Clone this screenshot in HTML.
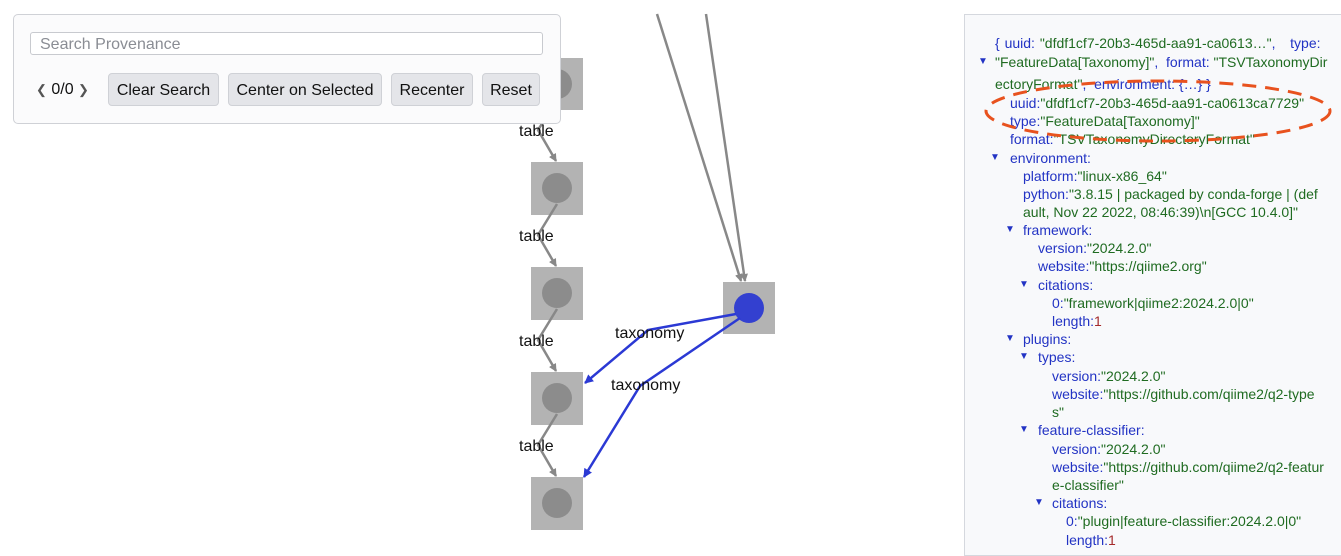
<!DOCTYPE html>
<html><head><meta charset="utf-8"><style>
body{margin:0;width:1341px;height:552px;overflow:hidden;background:#fff;font-family:"Liberation Sans",sans-serif;position:relative}
.tb{position:absolute;left:13px;top:14px;width:546px;height:108px;border:1px solid #cfd1d6;border-radius:5px;background:#fbfbfc}
.inp{position:absolute;left:30px;top:32px;width:513px;height:23px;border:1px solid #c8cacf;border-radius:3px;background:#fff;font-size:16px;color:#8a8d94;line-height:23px;padding-left:9px;box-sizing:border-box}
.btn{position:absolute;top:73px;height:33px;border:1px solid #cfd1d6;border-radius:4px;background:#e4e5e9;font-size:16px;line-height:33px;text-align:center;color:#111;box-sizing:border-box}
.panel{position:absolute;left:964px;top:14px;width:380px;height:540px;border:1px solid #d5d8de;background:#f8f9fb}
.r{position:absolute;font-size:14px;line-height:18px;white-space:nowrap;color:#2233c4}
.g{color:#1f6b21}.n{color:#a52a2a}
.t{position:absolute;font-size:10px;color:#2233c4;line-height:18px}
.lbl{font-size:16px;fill:#111;font-family:"Liberation Sans",sans-serif}
</style></head><body>
<svg width="1341" height="552" style="position:absolute;left:0;top:0">
<defs>
<marker id="ag" markerWidth="8" markerHeight="8" refX="7" refY="4" orient="auto" markerUnits="userSpaceOnUse"><path d="M0,0L8,4L0,8z" fill="#888"/></marker>
<marker id="ab" markerWidth="9" markerHeight="9" refX="8" refY="4.5" orient="auto" markerUnits="userSpaceOnUse"><path d="M0,0L9,4.5L0,9z" fill="#2b39d4"/></marker>
</defs>
<g fill="#b3b3b3"><rect x="531" y="58" width="52" height="52"/><rect x="531" y="162" width="52" height="53"/><rect x="531" y="267" width="52" height="53"/><rect x="531" y="372" width="52" height="53"/><rect x="531" y="477" width="52" height="53"/><rect x="723" y="282" width="52" height="52"/></g>
<g fill="#8c8c8c"><circle cx="557" cy="84" r="15"/><circle cx="557" cy="188" r="15"/><circle cx="557" cy="293" r="15"/><circle cx="557" cy="398" r="15"/><circle cx="557" cy="503" r="15"/></g>
<circle cx="749" cy="308" r="15" fill="#3340d0"/>
<g stroke="#888" stroke-width="2.5" fill="none" marker-end="url(#ag)">
<path d="M557,100 L538,130 L556,161"/>
<path d="M557,204 L538,235 L556,266"/>
<path d="M557,309 L538,340 L556,371"/>
<path d="M557,414 L538,445 L556,476"/>
<path d="M657,14 L741,281"/>
<path d="M706,14 L745,281"/>
</g>
<g stroke="#2b39d4" stroke-width="2.5" fill="none" marker-end="url(#ab)">
<path d="M736,314 L648,330 L585,383"/>
<path d="M740,318 L640,386 L584,477"/>
</g>
<text class="lbl" x="519" y="136">table</text>
<text class="lbl" x="519" y="241">table</text>
<text class="lbl" x="519" y="346">table</text>
<text class="lbl" x="519" y="451">table</text>
<text class="lbl" x="615" y="338">taxonomy</text>
<text class="lbl" x="611" y="390">taxonomy</text>
</svg>
<div class="tb"></div>
<div class="inp">Search Provenance</div>
<div style="position:absolute;left:36px;top:80px;font-size:16px;line-height:20px;color:#111"><span style="color:#555;font-size:13px">&#10094;</span> 0/0 <span style="color:#555;font-size:13px">&#10095;</span></div>
<div class="btn" style="left:108px;width:111px">Clear Search</div>
<div class="btn" style="left:228px;width:154px">Center on Selected</div>
<div class="btn" style="left:391px;width:82px">Recenter</div>
<div class="btn" style="left:482px;width:58px">Reset</div>
<div class="panel"></div>
<div class="r" style="left:995px;top:34px;word-spacing:1px">{ uuid: <span class="g">"dfdf1cf7-20b3-465d-aa91-ca0613…"</span>,&nbsp;&nbsp; type:</div>
<div class="t" style="left:978px;top:53px">▼</div>
<div class="r" style="left:995px;top:53px"><span class="g">"FeatureData[Taxonomy]"</span>,&nbsp; format: <span class="g">"TSVTaxonomyDir</span></div>
<div class="r" style="left:995px;top:75px"><span class="g">ectoryFormat"</span>,&nbsp; environment: {…} }</div>
<div class="r" style="left:1010px;top:94px">uuid:<span class="g">"dfdf1cf7-20b3-465d-aa91-ca0613ca7729"</span></div>
<div class="r" style="left:1010px;top:112px">type:<span class="g">"FeatureData[Taxonomy]"</span></div>
<div class="r" style="left:1010px;top:130px">format:<span class="g">"TSVTaxonomyDirectoryFormat"</span></div>
<div class="t" style="left:990px;top:149px">▼</div>
<div class="r" style="left:1010px;top:149px">environment:</div>
<div class="r" style="left:1023px;top:167px">platform:<span class="g">"linux-x86_64"</span></div>
<div class="r" style="left:1023px;top:185px">python:<span class="g">"3.8.15 | packaged by conda-forge | (def</span></div>
<div class="r" style="left:1023px;top:203px"><span class="g">ault, Nov 22 2022, 08:46:39)\n[GCC 10.4.0]"</span></div>
<div class="t" style="left:1005px;top:221px">▼</div>
<div class="r" style="left:1023px;top:221px">framework:</div>
<div class="r" style="left:1038px;top:239px">version:<span class="g">"2024.2.0"</span></div>
<div class="r" style="left:1038px;top:257px">website:<span class="g">"https://qiime2.org"</span></div>
<div class="t" style="left:1019px;top:276px">▼</div>
<div class="r" style="left:1038px;top:276px">citations:</div>
<div class="r" style="left:1052px;top:294px">0:<span class="g">"framework|qiime2:2024.2.0|0"</span></div>
<div class="r" style="left:1052px;top:312px">length:<span class="n">1</span></div>
<div class="t" style="left:1005px;top:330px">▼</div>
<div class="r" style="left:1023px;top:330px">plugins:</div>
<div class="t" style="left:1019px;top:348px">▼</div>
<div class="r" style="left:1038px;top:348px">types:</div>
<div class="r" style="left:1052px;top:367px">version:<span class="g">"2024.2.0"</span></div>
<div class="r" style="left:1052px;top:385px">website:<span class="g">"https://github.com/qiime2/q2-type</span></div>
<div class="r" style="left:1052px;top:403px"><span class="g">s"</span></div>
<div class="t" style="left:1019px;top:421px">▼</div>
<div class="r" style="left:1038px;top:421px">feature-classifier:</div>
<div class="r" style="left:1052px;top:440px">version:<span class="g">"2024.2.0"</span></div>
<div class="r" style="left:1052px;top:458px">website:<span class="g">"https://github.com/qiime2/q2-featur</span></div>
<div class="r" style="left:1052px;top:476px"><span class="g">e-classifier"</span></div>
<div class="t" style="left:1034px;top:494px">▼</div>
<div class="r" style="left:1052px;top:494px">citations:</div>
<div class="r" style="left:1066px;top:512px">0:<span class="g">"plugin|feature-classifier:2024.2.0|0"</span></div>
<div class="r" style="left:1066px;top:531px">length:<span class="n">1</span></div>
<svg width="1341" height="552" style="position:absolute;left:0;top:0;pointer-events:none">
<ellipse cx="1158" cy="111" rx="172" ry="30" fill="none" stroke="#e8521e" stroke-width="3" stroke-dasharray="14 9"/>
</svg>
</body></html>
